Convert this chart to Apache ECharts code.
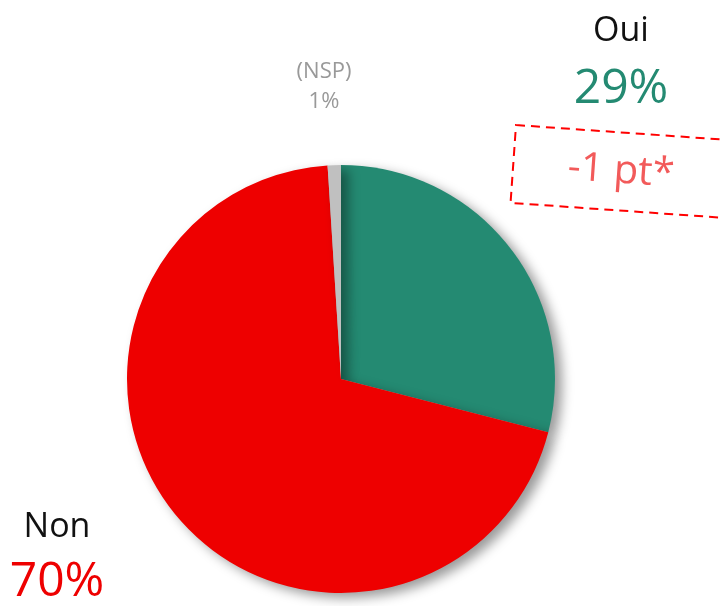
<!DOCTYPE html>
<html lang="fr">
  <head>
    <meta charset="UTF-8" />
    <title>Sondage</title>
    <script src="https://cdn.jsdelivr.net/npm/echarts@6/dist/echarts.min.js"></script>
    <style>
      html, body { margin: 0; padding: 0; background: #fff; }
      #chart { width: 722px; height: 606px; }
    </style>
  </head>
  <body>
    <div id="chart"></div>
    <script>
      // données
      const categories = ['Oui', 'Non', '(NSP)']
      const values = [29, 70, 1]
      const colors = ['#248a72', '#ee0000', '#c0c0c0']
      const evolution = '-1 pt*'

      const font = '"Open Sans", "Noto Sans", sans-serif'
      const chart = echarts.init(document.getElementById('chart'))

      const pieData = categories.map((name, i) => ({
        name,
        value: values[i],
        itemStyle: { color: colors[i] }
      }))

      chart.setOption({
        animation: false,
        series: [
          {
            type: 'pie',
            center: [341, 379],
            radius: 214,
            startAngle: 90,
            clockwise: true,
            label: { show: false },
            labelLine: { show: false },
            itemStyle: {
              borderWidth: 0,
              shadowColor: 'rgba(0,0,0,0.4)',
              shadowBlur: 12,
              shadowOffsetX: 7,
              shadowOffsetY: 5
            },
            emphasis: { disabled: true },
            data: pieData
          }
        ],
        graphic: [
          // Oui
          { type: 'text', x: 621, y: 31, style: { text: categories[0], font: '34px ' + font, fill: '#111', align: 'center', verticalAlign: 'middle' } },
          { type: 'text', x: 621, y: 89, style: { text: values[0] + '%', font: '48px ' + font, fill: colors[0], align: 'center', verticalAlign: 'middle' } },
          // NSP
          { type: 'text', x: 324, y: 72, style: { text: categories[2], font: '22px ' + font, fill: '#999', align: 'center', verticalAlign: 'middle' } },
          { type: 'text', x: 324, y: 102, style: { text: values[2] + '%', font: '22px ' + font, fill: '#999', align: 'center', verticalAlign: 'middle' } },
          // Non
          { type: 'text', x: 57, y: 527, style: { text: categories[1], font: '34px ' + font, fill: '#111', align: 'center', verticalAlign: 'middle' } },
          { type: 'text', x: 57, y: 582, style: { text: values[1] + '%', font: '48px ' + font, fill: colors[1], align: 'center', verticalAlign: 'middle' } },
          // encadré évolution
          {
            type: 'group',
            x: 628,
            y: 172,
            rotation: -0.07,
            children: [
              { type: 'rect', shape: { x: -115, y: -39, width: 230, height: 78 }, style: { fill: 'none', stroke: '#ff0000', lineWidth: 2, lineDash: [9, 6] } },
              { type: 'text', x: -7, y: 0, style: { text: evolution, font: '40px ' + font, fill: '#f25a5a', align: 'center', verticalAlign: 'middle' } }
            ]
          }
        ]
      })
    </script>
  </body>
</html>
